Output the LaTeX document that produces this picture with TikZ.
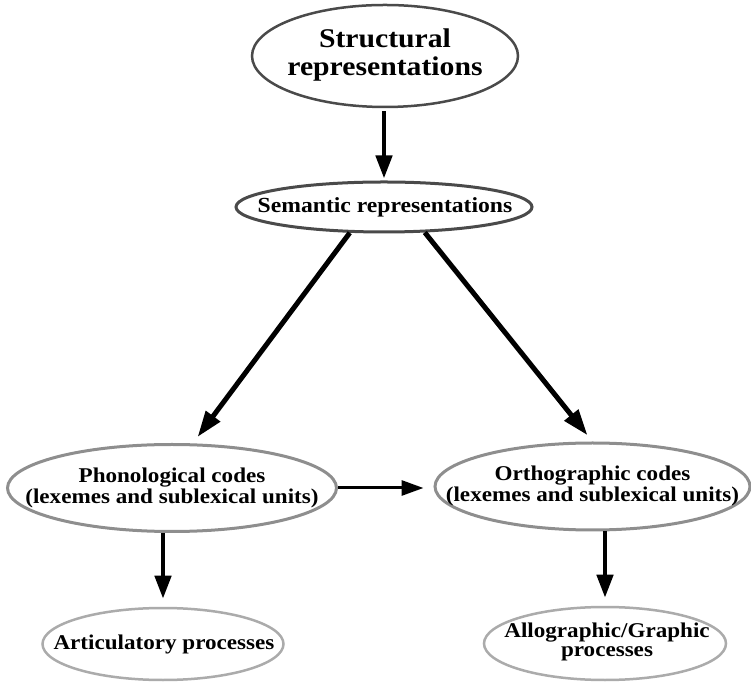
\documentclass[tikz,border=0pt]{standalone}
\usepackage{fontspec}
\setmainfont[FakeStretch=1.1]{Liberation Serif}
\usetikzlibrary{shapes.geometric,arrows.meta}
\definecolor{darkring}{HTML}{4A4A4A}
\definecolor{midring}{HTML}{8E8E8E}
\definecolor{lightring}{HTML}{ABABAB}
\tikzset{
  ell/.style={ellipse, draw, inner sep=0pt},
  lbl/.style={align=center, font=\bfseries\fontsize{21}{20.5}\selectfont, inner sep=0pt},
  bigarrow/.style={line width=4.5pt, -{Triangle[length=23pt,width=16pt]}},
  flatarrow/.style={line width=3pt, -{Triangle[length=22pt,width=15pt]}}
}
\begin{document}
\begin{tikzpicture}[x=1pt,y=1pt]
\useasboundingbox (0,0) rectangle (751,682);
% ellipses
\node[ell, draw=darkring, line width=2.5pt, minimum width=266pt, minimum height=102pt] (str) at (385,626) {};
\node[ell, draw=darkring, line width=3pt, minimum width=296pt, minimum height=50pt] (sem) at (384,475) {};
\node[ell, draw=midring, line width=3pt, minimum width=329pt, minimum height=87pt] (phon) at (172,194) {};
\node[ell, draw=midring, line width=3pt, minimum width=315pt, minimum height=87pt] (orth) at (592.5,195.5) {};
\node[ell, draw=lightring, line width=2.5pt, minimum width=241pt, minimum height=72pt] (artic) at (163,38) {};
\node[ell, draw=lightring, line width=2.5pt, minimum width=242pt, minimum height=73pt] (allo) at (605,38.5) {};
% labels
\node[lbl, font=\bfseries\fontsize{27}{28}\selectfont] (strt) at (385,627) {Structural\\representations};
\node[lbl, font=\bfseries\fontsize{21.5}{21}\selectfont] (semt) at (385,475) {Semantic representations};
\node[lbl] (phont) at (172,194) {Phonological codes\\(lexemes and sublexical units)};
\node[lbl] (ortht) at (592.5,196) {Orthographic codes\\(lexemes and sublexical units)};
\node[lbl] (artict) at (164,38) {Articulatory processes};
\node[lbl, font=\bfseries\fontsize{21}{19.5}\selectfont] (allot) at (607,40) {Allographic/Graphic\\processes};
% connectors
\draw[bigarrow, shorten <=3pt, shorten >=2pt] (str.south -| sem.north) -- (sem.north);
\draw[line width=5pt, -{Triangle[length=26pt,width=17pt]}, shorten >=8pt] (sem.217) -- (phon.65);
\draw[line width=5pt, -{Triangle[length=26pt,width=17pt]}, shorten >=8pt] (sem.328) -- (orth.north);
\draw[flatarrow, shorten >=10pt] (phon.east) -- (phon.east -| orth.west);
\draw[bigarrow, shorten >=8pt] (artic.north |- phon.south) -- (artic.north);
\draw[bigarrow, shorten >=8pt] (allo.north |- orth.south) -- (allo.north);
\end{tikzpicture}
\end{document}
